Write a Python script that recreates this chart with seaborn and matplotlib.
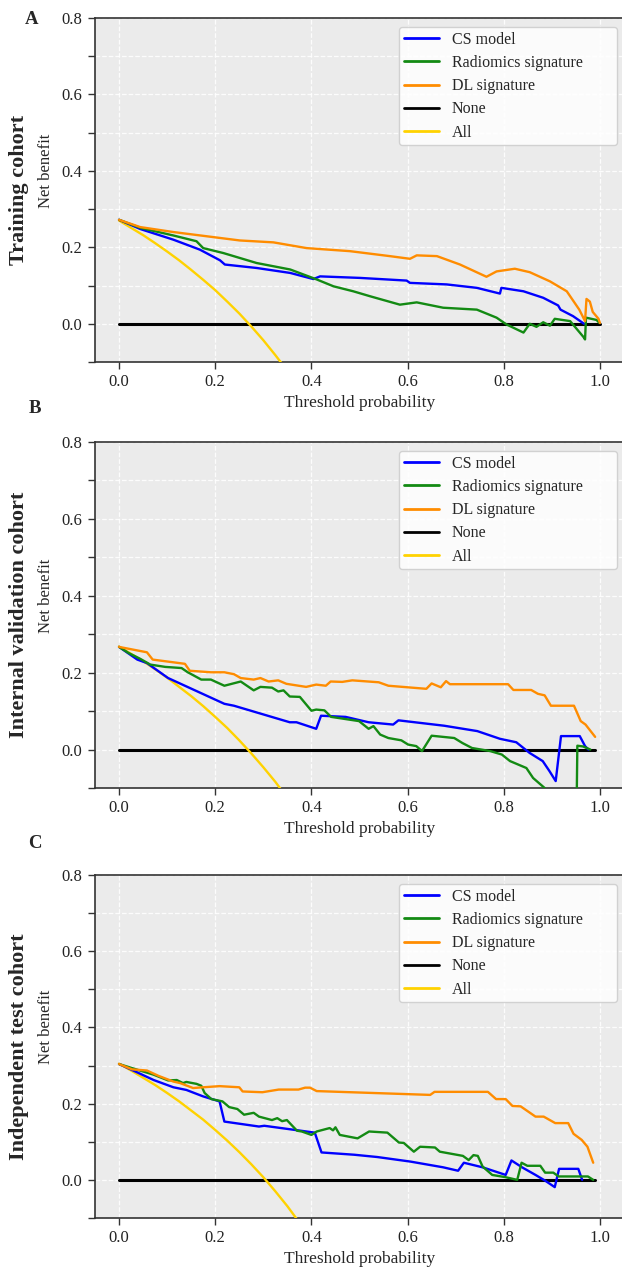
import matplotlib
matplotlib.use("Agg")
import matplotlib.pyplot as plt
from matplotlib.lines import Line2D
import numpy as np
import pandas as pd
import seaborn as sns

sns.set_style("ticks")
plt.rcParams["font.family"] = ["Liberation Serif", "DejaVu Serif"]

# ---------------- data ----------------
SERIES = ["CS model", "Radiomics signature", "DL signature", "None", "All"]
COLORS = ["#0000ff", "#138a13", "#ff8c00", "#000000", "#ffd200"]
LETTERS = ["A", "B", "C"]
COHORTS = ["Training cohort", "Internal validation cohort", "Independent test cohort"]
X_TICKS = [0.0, 0.2, 0.4, 0.6, 0.8, 1.0]
Y_TICKS = [-0.1, 0.0, 0.1, 0.2, 0.3, 0.4, 0.5, 0.6, 0.7, 0.8]
Y_TICK_LABELS = ["", "0.0", "", "0.2", "", "0.4", "", "0.6", "", "0.8"]

# Panel A - training cohort
A_CS_T = [0.0, 0.044, 0.113, 0.168, 0.21, 0.22, 0.286, 0.356, 0.404, 0.418, 0.501, 0.598, 0.605,
          0.681, 0.744, 0.792, 0.795, 0.841, 0.882, 0.913, 0.918, 0.944, 0.967]
A_CS_NB = [0.272, 0.248, 0.22, 0.194, 0.166, 0.155, 0.146, 0.133, 0.117, 0.124, 0.12, 0.113, 0.107,
           0.103, 0.094, 0.079, 0.094, 0.085, 0.068, 0.048, 0.037, 0.02, 0.0]
A_RAD_T = [0.0, 0.044, 0.113, 0.161, 0.175, 0.217, 0.286, 0.356, 0.411, 0.446, 0.487, 0.522, 0.584,
           0.619, 0.674, 0.744, 0.785, 0.806, 0.841, 0.854, 0.868, 0.882, 0.896, 0.906, 0.938, 0.966,
           0.969, 0.971, 0.993, 0.999]
A_RAD_NB = [0.272, 0.251, 0.231, 0.216, 0.198, 0.185, 0.159, 0.142, 0.116, 0.098, 0.085, 0.072, 0.05,
            0.056, 0.042, 0.037, 0.016, -0.002, -0.023, 0.0, -0.008, 0.004, -0.005, 0.013, 0.007, -0.035,
            -0.041, 0.016, 0.01, 0.002]
A_DL_T = [0.0, 0.044, 0.113, 0.182, 0.251, 0.321, 0.39, 0.48, 0.563, 0.605, 0.619, 0.661, 0.709, 0.764,
          0.785, 0.823, 0.854, 0.896, 0.931, 0.957, 0.969, 0.972, 0.979, 0.985, 0.997, 1.0]
A_DL_NB = [0.272, 0.253, 0.24, 0.229, 0.218, 0.213, 0.198, 0.19, 0.177, 0.17, 0.179, 0.177, 0.155, 0.123,
           0.137, 0.144, 0.135, 0.111, 0.085, 0.037, 0.007, 0.065, 0.058, 0.031, 0.013, 0.002]
A_NONE_T = [0.0, 1.0]
A_NONE_NB = [0.0, 0.0]
A_ALL_T = [0.0, 0.025, 0.05, 0.075, 0.1, 0.125, 0.15, 0.175, 0.2, 0.225, 0.25, 0.275, 0.3, 0.325, 0.35]
A_ALL_NB = [0.27, 0.251, 0.232, 0.211, 0.189, 0.166, 0.141, 0.115, 0.088, 0.058, 0.027, -0.007,
            -0.043, -0.082, -0.123]

# Panel B - internal validation cohort
B_CS_T = [0.0, 0.038, 0.058, 0.102, 0.219, 0.239, 0.355, 0.369, 0.41, 0.42, 0.471, 0.519, 0.57, 0.581,
          0.676, 0.745, 0.792, 0.826, 0.854, 0.881, 0.895, 0.908, 0.919, 0.958, 0.969, 0.976]
B_CS_NB = [0.267, 0.234, 0.225, 0.186, 0.119, 0.114, 0.071, 0.071, 0.054, 0.088, 0.085, 0.071, 0.065,
           0.076, 0.062, 0.048, 0.028, 0.019, -0.009, -0.03, -0.056, -0.082, 0.035, 0.035, 0.009, 0.0]
B_RAD_T = [0.0, 0.02, 0.044, 0.065, 0.096, 0.13, 0.143, 0.171, 0.191, 0.219, 0.253, 0.28, 0.294, 0.318,
           0.331, 0.342, 0.355, 0.376, 0.4, 0.41, 0.427, 0.441, 0.499, 0.519, 0.529, 0.543, 0.56, 0.587,
           0.601, 0.618, 0.63, 0.65, 0.697, 0.714, 0.734, 0.772, 0.796, 0.813, 0.847, 0.861, 0.885,
           0.92, 0.95, 0.953, 0.965, 0.98]
B_RAD_NB = [0.267, 0.251, 0.236, 0.221, 0.215, 0.212, 0.201, 0.182, 0.182, 0.166, 0.177, 0.154, 0.163,
            0.161, 0.151, 0.154, 0.138, 0.137, 0.101, 0.104, 0.102, 0.085, 0.074, 0.054, 0.061, 0.039,
            0.03, 0.024, 0.013, 0.009, -0.004, 0.036, 0.03, 0.017, 0.004, -0.004, -0.013, -0.03, -0.048,
            -0.074, -0.1, -0.16, -0.3, 0.01, 0.008, 0.0]
B_DL_T = [0.0, 0.058, 0.07, 0.137, 0.147, 0.191, 0.219, 0.239, 0.253, 0.28, 0.294, 0.311, 0.331, 0.348,
          0.389, 0.41, 0.43, 0.44, 0.464, 0.485, 0.54, 0.56, 0.639, 0.65, 0.669, 0.68, 0.688, 0.809,
          0.82, 0.857, 0.871, 0.885, 0.898, 0.946, 0.96, 0.97, 0.99]
B_DL_NB = [0.267, 0.253, 0.234, 0.223, 0.205, 0.201, 0.201, 0.196, 0.186, 0.182, 0.186, 0.177, 0.18,
           0.171, 0.163, 0.169, 0.166, 0.177, 0.176, 0.18, 0.175, 0.166, 0.158, 0.172, 0.162, 0.178,
           0.17, 0.17, 0.155, 0.155, 0.145, 0.141, 0.114, 0.114, 0.074, 0.065, 0.033]
B_NONE_T = [0.0, 0.99]
B_NONE_NB = [0.0, 0.0]
B_ALL_T = [0.0, 0.025, 0.05, 0.075, 0.1, 0.125, 0.15, 0.175, 0.2, 0.225, 0.25, 0.275, 0.3, 0.325, 0.35]
B_ALL_NB = [0.268, 0.249, 0.23, 0.209, 0.187, 0.163, 0.139, 0.113, 0.085, 0.056, 0.024, -0.01,
            -0.046, -0.084, -0.126]

# Panel C - independent test cohort
C_CS_T = [0.0, 0.038, 0.072, 0.113, 0.14, 0.175, 0.209, 0.219, 0.291, 0.302, 0.407, 0.421, 0.489,
          0.537, 0.606, 0.674, 0.705, 0.717, 0.756, 0.804, 0.816, 0.838, 0.866, 0.886, 0.906, 0.915,
          0.955, 0.963]
C_CS_NB = [0.304, 0.282, 0.262, 0.243, 0.236, 0.219, 0.206, 0.153, 0.14, 0.142, 0.124, 0.072, 0.066,
           0.06, 0.048, 0.033, 0.024, 0.045, 0.033, 0.013, 0.051, 0.033, 0.013, -0.002, -0.019, 0.029,
           0.029, 0.0]
C_RAD_T = [0.0, 0.038, 0.072, 0.102, 0.12, 0.133, 0.14, 0.161, 0.171, 0.178, 0.192, 0.215, 0.229, 0.246,
           0.26, 0.28, 0.291, 0.318, 0.329, 0.339, 0.349, 0.37, 0.38, 0.4, 0.411, 0.438, 0.445, 0.45,
           0.459, 0.496, 0.52, 0.558, 0.582, 0.592, 0.613, 0.626, 0.657, 0.667, 0.715, 0.727, 0.737,
           0.746, 0.756, 0.776, 0.804, 0.828, 0.837, 0.849, 0.876, 0.886, 0.903, 0.914, 0.975, 0.986]
C_RAD_NB = [0.304, 0.289, 0.276, 0.261, 0.262, 0.254, 0.257, 0.252, 0.247, 0.228, 0.212, 0.206, 0.191,
            0.186, 0.171, 0.176, 0.166, 0.157, 0.162, 0.154, 0.157, 0.129, 0.127, 0.118, 0.127, 0.136,
            0.13, 0.138, 0.118, 0.109, 0.127, 0.124, 0.098, 0.097, 0.074, 0.087, 0.085, 0.074, 0.063,
            0.052, 0.065, 0.063, 0.035, 0.013, 0.007, 0.0, 0.045, 0.037, 0.037, 0.019, 0.019, 0.009,
            0.009, 0.0]
C_DL_T = [0.0, 0.027, 0.058, 0.082, 0.113, 0.127, 0.154, 0.175, 0.209, 0.25, 0.257, 0.298, 0.332, 0.373,
          0.387, 0.397, 0.411, 0.647, 0.656, 0.767, 0.784, 0.804, 0.818, 0.835, 0.866, 0.883, 0.907,
          0.934, 0.945, 0.962, 0.974, 0.986]
C_DL_NB = [0.304, 0.29, 0.287, 0.273, 0.258, 0.254, 0.241, 0.243, 0.246, 0.243, 0.232, 0.23, 0.237,
           0.237, 0.242, 0.242, 0.233, 0.223, 0.231, 0.231, 0.212, 0.212, 0.194, 0.193, 0.166, 0.166,
           0.149, 0.149, 0.121, 0.105, 0.087, 0.045]
C_NONE_T = [0.0, 0.99]
C_NONE_NB = [0.0, 0.0]
C_ALL_T = [0.0, 0.025, 0.05, 0.075, 0.1, 0.125, 0.15, 0.175, 0.2, 0.225, 0.25, 0.275, 0.3, 0.325, 0.35,
           0.375]
C_ALL_NB = [0.305, 0.287, 0.268, 0.249, 0.228, 0.206, 0.182, 0.158, 0.131, 0.103, 0.073, 0.041, 0.007,
            -0.03, -0.069, -0.112]

PANELS = [
    [(A_CS_T, A_CS_NB), (A_RAD_T, A_RAD_NB), (A_DL_T, A_DL_NB), (A_NONE_T, A_NONE_NB), (A_ALL_T, A_ALL_NB)],
    [(B_CS_T, B_CS_NB), (B_RAD_T, B_RAD_NB), (B_DL_T, B_DL_NB), (B_NONE_T, B_NONE_NB), (B_ALL_T, B_ALL_NB)],
    [(C_CS_T, C_CS_NB), (C_RAD_T, C_RAD_NB), (C_DL_T, C_DL_NB), (C_NONE_T, C_NONE_NB), (C_ALL_T, C_ALL_NB)],
]

# ---------------- layout ----------------
W, H = 622, 1270
fig = plt.figure(figsize=(W / 100, H / 100), dpi=100)
fig.patch.set_facecolor("white")

AX_L_PX, AX_R_PX = 95, 624
AX_LEFT = AX_L_PX / W
AX_WIDTH = (AX_R_PX - AX_L_PX) / W
AX_W_PX = AX_R_PX - AX_L_PX
AX_RECTS = [(18, 362), (442, 788), (875, 1218)]  # top, bottom in px
LETTER_POS = [(32, 19), (35, 408), (35, 843)]

palette = dict(zip(SERIES, COLORS))

for i, series in enumerate(PANELS):
    top, bot = AX_RECTS[i]
    ax = fig.add_axes([AX_LEFT, 1 - bot / H, AX_WIDTH, (bot - top) / H])
    ax.set_facecolor("#ebebeb")

    rows = []
    for name, (t, nb) in zip(SERIES, series):
        for k, (tt, vv) in enumerate(zip(t, nb)):
            rows.append({"Threshold": tt, "NB": vv, "Model": name, "order": k})
    df = pd.DataFrame(rows)

    for name in ["None", "All", "CS model", "Radiomics signature", "DL signature"]:
        sub = df[df["Model"] == name]
        sns.lineplot(data=sub, x="Threshold", y="NB", color=palette[name], sort=False,
                     estimator=None, linewidth=2.2 if name == "None" else 1.7, ax=ax, legend=False,
                     zorder=3 if name == "None" else 4)

    ax.set_xlim(-0.05, 1.05)
    ax.set_ylim(-0.1, 0.8)
    ax.set_xticks(X_TICKS)
    ax.set_xticklabels([f"{v:.1f}" for v in X_TICKS])
    ax.set_yticks(Y_TICKS)
    ax.set_yticklabels(Y_TICK_LABELS)
    ax.tick_params(axis="both", direction="out", length=5, width=1.0, color="#333333",
                   labelsize=12, labelcolor="#222222", bottom=True, left=True, pad=4)
    ax.grid(True, color="white", linestyle="--", linewidth=0.9, alpha=0.9)
    ax.set_axisbelow(True)
    for side in ["left", "bottom", "top"]:
        ax.spines[side].set_visible(True)
        ax.spines[side].set_color("#333333")
        ax.spines[side].set_linewidth(1.2)
    ax.spines["right"].set_visible(False)

    ax.set_xlabel("Threshold probability", fontsize=12.5, labelpad=3)
    ax.set_ylabel("")
    ax.text((46 - AX_L_PX) / AX_W_PX, 0.556, "Net benefit", transform=ax.transAxes, rotation=90,
            ha="center", va="center", fontsize=12)
    ax.text((19 - AX_L_PX) / AX_W_PX, 0.5, COHORTS[i], transform=ax.transAxes, rotation=90,
            ha="center", va="center", fontsize=16, fontweight="bold")

    handles = [Line2D([0], [0], color=c, lw=2.0) for c in COLORS]
    leg_x0 = (399 - AX_L_PX) / AX_W_PX
    leg_w = (617 - 399) / AX_W_PX
    ax.legend(handles, SERIES, loc="upper left", mode="expand",
              bbox_to_anchor=(leg_x0, 0.0, leg_w, 1 - 9 / (bot - top)),
              borderaxespad=0, fontsize=11.5, labelspacing=0.45, borderpad=0.3,
              handlelength=2.2, handletextpad=0.8, frameon=True, fancybox=True,
              framealpha=0.85, edgecolor="0.8", facecolor="white")

    lx, ly = LETTER_POS[i]
    fig.text(lx / W, 1 - ly / H, LETTERS[i], ha="center", va="center",
             fontsize=13.5, fontweight="bold")

fig.savefig("out.png", dpi=100)
